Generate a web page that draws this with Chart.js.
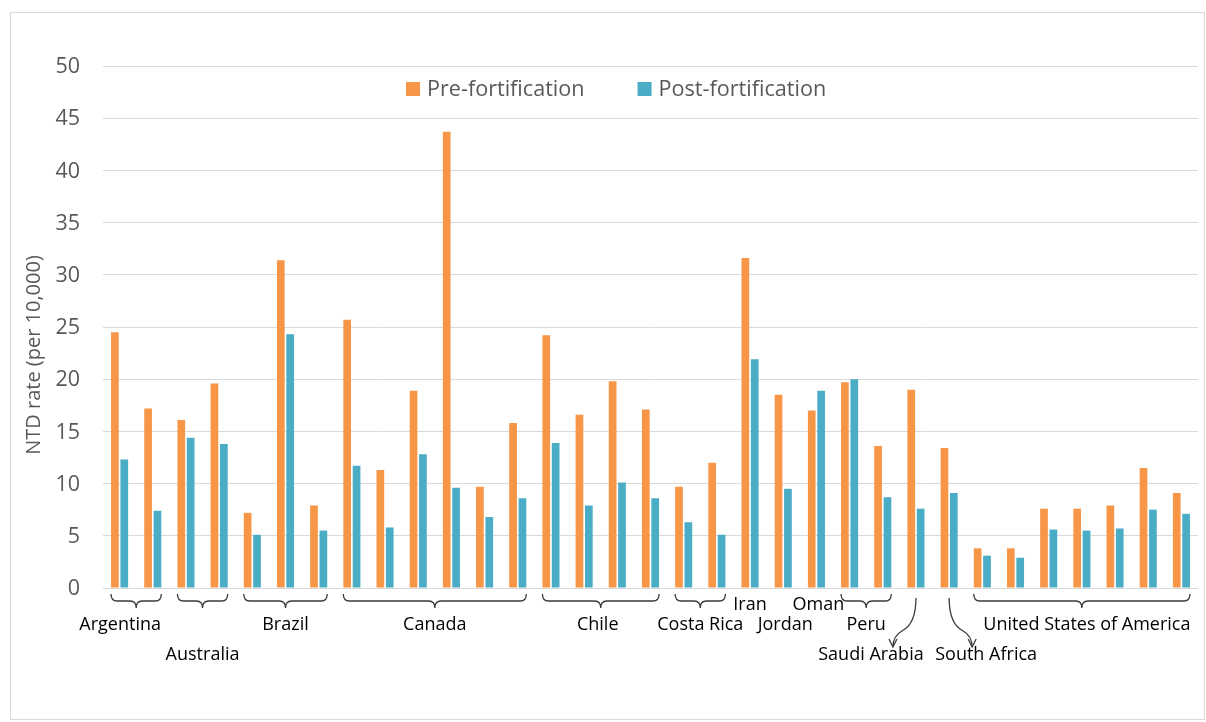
<!DOCTYPE html>
<html>
<head>
<meta charset="utf-8">
<title>NTD rates before and after fortification</title>
<script src="https://cdn.jsdelivr.net/npm/chart.js@4.4.1/dist/chart.umd.min.js"></script>
<style>
  html, body { margin: 0; padding: 0; background: #fff; }
</style>
</head>
<body>
<canvas id="ntdChart" width="1206" height="722"></canvas>
<script>
// countries and how many studies (bar pairs) each has
const countries = ['Argentina', 'Australia', 'Brazil', 'Canada', 'Chile', 'Costa Rica', 'Iran', 'Jordan', 'Oman', 'Peru', 'Saudi Arabia', 'South Africa', 'United States of America'];
const studyCounts = [2, 2, 3, 6, 4, 2, 1, 1, 1, 2, 1, 1, 7];

// NTD rate per 10,000 births
const preFortification = [24.5, 17.2, 16.1, 19.6, 7.2, 31.4, 7.9, 25.7, 11.3, 18.9, 43.7, 9.7, 15.8, 24.2, 16.6, 19.8, 17.1, 9.7, 12.0, 31.6, 18.5, 17.0, 19.7, 13.6, 19.0, 13.4, 3.8, 3.8, 7.6, 7.6, 7.9, 11.5, 9.1];
const postFortification = [12.3, 7.4, 14.4, 13.8, 5.1, 24.3, 5.5, 11.7, 5.8, 12.8, 9.6, 6.8, 8.6, 13.9, 7.9, 10.1, 8.6, 6.3, 5.1, 21.9, 9.5, 18.9, 20.0, 8.7, 7.6, 9.1, 3.1, 2.9, 5.6, 5.5, 5.7, 7.5, 7.1];

const yMin = 0, yMax = 50, yStep = 5;
const seriesNames = ['Pre-fortification', 'Post-fortification'];
const yTitle = 'NTD rate (per 10,000)';

// how each country name is marked under the axis
const labelMark = ['brace', 'brace', 'brace', 'brace', 'brace', 'brace', 'none', 'none', 'none', 'brace', 'arrowLeft', 'arrowRight', 'brace'];
const labelRow = [0, 1, 0, 0, 0, 0, -1, 0, -1, 0, 1, 1, 0];
const labelShift = [-16, 0, 0, 0, -3, 0, 0, 2, 2, 0, -45, 37, 5];

// one category per study
const categories = [];
countries.forEach((c, i) => {
  for (let k = 0; k < studyCounts[i]; k++) categories.push(c + ' ' + (k + 1));
});

const FONT = "'Open Sans', 'Noto Sans', sans-serif";
const GREY = '#595959';
const ORANGE = '#F79646';
const TEAL = '#4BACC6';

const decorPlugin = {
  id: 'decor',
  beforeDraw(chart) {
    const ctx = chart.ctx;
    ctx.save();
    ctx.fillStyle = '#ffffff';
    ctx.fillRect(0, 0, chart.width, chart.height);
    ctx.strokeStyle = '#d9d9d9';
    ctx.lineWidth = 1;
    ctx.strokeRect(10.5, 12.5, 1194, 707);
    ctx.restore();
  },
  afterDraw(chart) {
    const ctx = chart.ctx;
    const x = chart.scales.x;
    const pre = chart.getDatasetMeta(0).data;
    const post = chart.getDatasetMeta(1).data;
    ctx.save();

    // y axis title
    ctx.save();
    ctx.translate(34, 355);
    ctx.rotate(-Math.PI / 2);
    ctx.font = '20px ' + FONT;
    ctx.fillStyle = GREY;
    ctx.textAlign = 'center';
    ctx.textBaseline = 'middle';
    ctx.fillText(yTitle, 0, 0);
    ctx.restore();

    // legend
    ctx.font = '21.6px ' + FONT;
    ctx.textBaseline = 'middle';
    ctx.textAlign = 'left';
    let lx = 406;
    chart.data.datasets.forEach(ds => {
      ctx.fillStyle = ds.backgroundColor;
      ctx.fillRect(lx, 82, 14, 14);
      ctx.fillStyle = GREY;
      ctx.fillText(ds.label, lx + 21, 90);
      lx += 21 + ctx.measureText(ds.label).width + 53;
    });

    // country labels with braces / arrows
    ctx.strokeStyle = '#3a3a3a';
    ctx.lineWidth = 1.3;
    ctx.font = '18px ' + FONT;
    ctx.fillStyle = '#000';
    ctx.textAlign = 'center';
    const rowY = { '-1': 605, '0': 625, '1': 655 };
    let idx = 0;
    countries.forEach((name, i) => {
      const first = idx, last = idx + studyCounts[i] - 1;
      idx += studyCounts[i];
      const x1 = pre[first].x - pre[first].width / 2;
      const x2 = post[last].x + post[last].width / 2;
      const xc = (x.getPixelForValue(first) + x.getPixelForValue(last)) / 2;
      const mark = labelMark[i];
      if (mark === 'brace') {
        const yTop = 594, yMid = 601, yTip = 608, r = 6;
        ctx.beginPath();
        ctx.moveTo(x1, yTop);
        ctx.quadraticCurveTo(x1, yMid, x1 + r, yMid);
        ctx.lineTo(xc - r, yMid);
        ctx.quadraticCurveTo(xc, yMid, xc, yTip);
        ctx.quadraticCurveTo(xc, yMid, xc + r, yMid);
        ctx.lineTo(x2 - r, yMid);
        ctx.quadraticCurveTo(x2, yMid, x2, yTop);
        ctx.stroke();
      } else if (mark === 'arrowLeft' || mark === 'arrowRight') {
        const d = mark === 'arrowLeft' ? -1 : 1;
        const tipX = xc + d * 23, tipY = 647;
        ctx.beginPath();
        ctx.moveTo(xc, 598);
        ctx.bezierCurveTo(xc, 619, xc + d * 6, 627, xc + d * 14, 631);
        ctx.quadraticCurveTo(tipX, 636, tipX, tipY);
        ctx.stroke();
        ctx.beginPath();
        ctx.moveTo(tipX - 4, tipY - 8);
        ctx.lineTo(tipX, tipY);
        ctx.lineTo(tipX + 4, tipY - 8);
        ctx.stroke();
      }
      ctx.fillText(name, xc + labelShift[i], rowY[labelRow[i]]);
    });
    ctx.restore();
  }
};

const ctx = document.getElementById('ntdChart').getContext('2d');
new Chart(ctx, {
  type: 'bar',
  data: {
    labels: categories,
    datasets: [{
      label: seriesNames[0],
      data: preFortification,
      backgroundColor: ORANGE,
      borderWidth: 0,
      categoryPercentage: 0.566,
      barPercentage: 0.82
    }, {
      label: seriesNames[1],
      data: postFortification,
      backgroundColor: TEAL,
      borderWidth: 0,
      categoryPercentage: 0.566,
      barPercentage: 0.82
    }]
  },
  options: {
    responsive: false,
    animation: false,
    layout: { padding: { top: 66, right: 8, bottom: 134, left: 0 } },
    plugins: {
      legend: { display: false },
      tooltip: { enabled: false }
    },
    scales: {
      x: { display: false },
      y: {
        min: yMin,
        max: yMax,
        ticks: {
          stepSize: yStep,
          padding: 23,
          labelOffset: 1,
          color: GREY,
          font: { family: FONT, size: 21.5 }
        },
        grid: { color: '#d9d9d9', lineWidth: 1, drawTicks: false },
        border: { display: false },
        afterFit(scale) { scale.width = 103; }
      }
    }
  },
  plugins: [decorPlugin]
});
</script>
</body>
</html>
